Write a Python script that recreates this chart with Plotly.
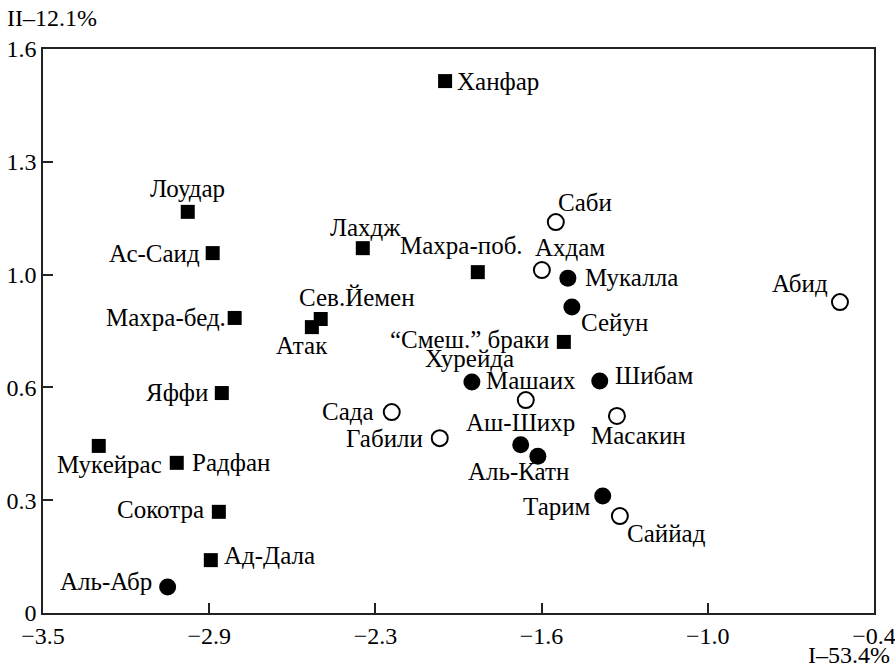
import plotly.graph_objects as go

# Filled squares
sq_names = ["Ханфар", "Лоудар", "Ас-Саид", "Лахдж", "Махра-поб.", "Махра-бед.",
            "Сев.Йемен", "Атак", "“Смеш.” браки", "Яффи", "Мукейрас", "Радфан",
            "Сокотра", "Ад-Дала"]
sq_x = [-2.00, -2.96, -2.867, -2.307, -1.878, -2.785, -2.464, -2.497, -1.557,
        -2.833, -3.292, -3.001, -2.844, -2.874]
sq_y = [1.509, 1.138, 1.021, 1.035, 0.967, 0.837, 0.834, 0.811, 0.769, 0.624,
        0.474, 0.426, 0.287, 0.150]

# Filled circles
fc_names = ["Аль-Абр", "Мукалла", "Сейун", "Машаих", "Шибам", "Аль-Шихр-2",
            "Аль-Катн", "Тарим"]
fc_x = [-3.035, -1.542, -1.527, -1.900, -1.423, -1.718, -1.654, -1.412]
fc_y = [0.074, 0.950, 0.868, 0.655, 0.658, 0.477, 0.445, 0.332]

# Open circles
oc_names = ["Саби", "Ахдам", "Абид", "Сада", "Габили", "Аш-Шихр", "Масакин", "Саййад"]
oc_x = [-1.587, -1.639, -0.527, -2.199, -2.020, -1.699, -1.359, -1.348]
oc_y = [1.109, 0.973, 0.882, 0.570, 0.496, 0.604, 0.559, 0.275]

# Tick labels
x_tickvals = [-3.5, -2.88, -2.26, -1.64, -1.02, -0.4]
x_ticktext = ["−3.5", "−2.9", "−2.3", "−1.6", "−1.0", "−0.4"]
y_tickvals = [0, 0.32, 0.64, 0.96, 1.28, 1.6]
y_ticktext = ["0", "0.3", "0.6", "1.0", "1.3", "1.6"]

# label placement: point name -> list of (text, anchor, dx, dy)
label_pos = {
    "Ханфар": [("Ханфар", "left", 10, 0)],
    "Лоудар": [("Лоудар", "center", 0, 23)],
    "Ас-Саид": [("Ас-Саид", "right", -11, 0)],
    "Лахдж": [("Лахдж", "center", 3, 21)],
    "Махра-поб.": [("Махра-поб.", "center", -16, 27)],
    "Махра-бед.": [("Махра-бед.", "right", -7, 0)],
    "Сев.Йемен": [("Сев.Йемен", "center", 36, 22)],
    "Атак": [("Атак", "center", -10, -18)],
    "“Смеш.” браки": [("“Смеш.” браки", "right", -13, 2)],
    "Яффи": [("Яффи", "right", -12, 1)],
    "Мукейрас": [("Мукейрас", "center", 11, -19)],
    "Радфан": [("Радфан", "left", 13, 0)],
    "Сокотра": [("Сокотра", "right", -13, 2)],
    "Ад-Дала": [("Ад-Дала", "left", 11, 5)],
    "Аль-Абр": [("Аль-Абр", "right", -14, 5)],
    "Мукалла": [("Мукалла", "left", 15, 1)],
    "Сейун": [("Сейун", "left", 7, -15)],
    "Машаих": [("Машаих", "left", 12, 2), ("Хурейда", "center", -2, 24)],
    "Шибам": [("Шибам", "left", 13, 6)],
    "Аль-Катн": [("Аль-Катн", "center", -19, -15)],
    "Тарим": [("Тарим", "right", -10, -11)],
    "Саби": [("Саби", "center", 29, 20)],
    "Ахдам": [("Ахдам", "center", 28, 23)],
    "Абид": [("Абид", "center", -40, 19)],
    "Сада": [("Сада", "right", -16, 1)],
    "Габили": [("Габили", "right", -15, 0)],
    "Аш-Шихр": [("Аш-Шихр", "center", -5, -22)],
    "Масакин": [("Масакин", "center", 22, -20)],
    "Саййад": [("Саййад", "center", 47, -17)],
}

FONT = "Liberation Serif"
LABEL_SIZE = 25
TICK_SIZE = 24

fig = go.Figure()
fig.add_trace(go.Scatter(x=sq_x, y=sq_y, mode="markers",
                         marker=dict(symbol="square", size=14, color="black",
                                     line=dict(width=0))))
fig.add_trace(go.Scatter(x=fc_x, y=fc_y, mode="markers",
                         marker=dict(symbol="circle", size=17, color="black",
                                     line=dict(width=0))))
fig.add_trace(go.Scatter(x=oc_x, y=oc_y, mode="markers",
                         marker=dict(symbol="circle", size=16, color="white",
                                     line=dict(width=2, color="black"))))

annotations = []
for names, xs, ys in [(sq_names, sq_x, sq_y), (fc_names, fc_x, fc_y), (oc_names, oc_x, oc_y)]:
    for n, x, y in zip(names, xs, ys):
        for text, anchor, dx, dy in label_pos.get(n, []):
            annotations.append(dict(x=x, y=y, xref="x", yref="y", text=text,
                                    showarrow=False, xanchor=anchor, yanchor="middle",
                                    xshift=dx, yshift=dy,
                                    font=dict(family=FONT, size=LABEL_SIZE, color="black")))

annotations.append(dict(x=0, y=1, xref="paper", yref="paper", text="II–12.1%",
                        showarrow=False, xanchor="left", yanchor="middle",
                        xshift=-38, yshift=31,
                        font=dict(family=FONT, size=TICK_SIZE, color="black")))
annotations.append(dict(x=1, y=0, xref="paper", yref="paper", text="I–53.4%",
                        showarrow=False, xanchor="right", yanchor="middle",
                        xshift=18, yshift=-42,
                        font=dict(family=FONT, size=TICK_SIZE, color="black")))

fig.update_layout(
    width=895, height=666,
    margin=dict(l=43, r=21, t=49, b=53, pad=0),
    paper_bgcolor="white", plot_bgcolor="white",
    showlegend=False,
    annotations=annotations,
    font=dict(family=FONT, size=TICK_SIZE, color="black"),
)
axis_style = dict(showgrid=False, zeroline=False, showline=True, linecolor="#222",
                  linewidth=1.5, mirror=True, ticks="inside", ticklen=10,
                  tickcolor="#222", tickwidth=1.5, automargin=False,
                  ticklabeloverflow="allow",
                  tickfont=dict(family=FONT, size=TICK_SIZE, color="black"))
fig.update_xaxes(range=[-3.5, -0.4], tickvals=x_tickvals, ticktext=x_ticktext, **axis_style)
fig.update_yaxes(range=[0, 1.6], tickvals=y_tickvals, ticktext=y_ticktext, **axis_style)

fig.write_html("out.html", config={"displayModeBar": False},
               post_script="document.body.style.margin='0';document.body.style.overflow='hidden';")
